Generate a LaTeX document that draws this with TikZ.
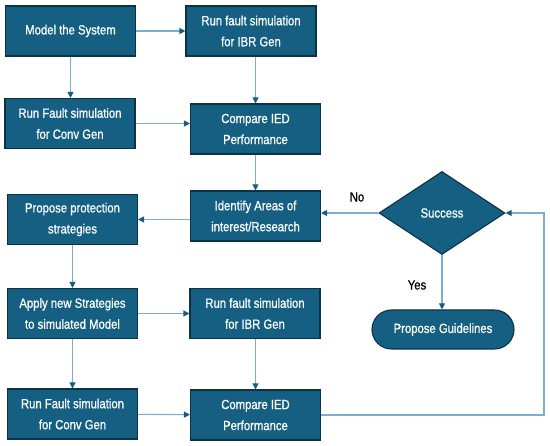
\documentclass[tikz,border=0pt]{standalone}
\usepackage{fontspec}
\setmainfont{Liberation Sans}[FakeStretch=0.85,FakeBold=0.8]
\usetikzlibrary{positioning,arrows.meta,shapes.geometric,shapes.misc}
\definecolor{boxblue}{RGB}{21,96,130}
\definecolor{edgeblue}{RGB}{12,50,70}
\definecolor{linkblue}{RGB}{122,174,202}

\begin{document}
\begin{tikzpicture}[
    x=1pt, y=-1pt,
    box/.style={
        draw=edgeblue,
        line width=1.1pt,
        fill=boxblue,
        text=white,
        minimum width=130pt,
        minimum height=50pt,
        inner sep=0pt,
        align=center,
        font=\fontsize{13.3}{21}\selectfont
    },
    decision/.style={
        box,
        diamond,
        minimum width=126pt,
        minimum height=83pt
    },
    terminal/.style={
        box,
        rounded rectangle,
        minimum width=142pt,
        minimum height=39pt
    },
    lbl/.style={
        font=\fontsize{13.3}{15}\selectfont
    },
    arr/.style={
        -{Triangle[length=6pt,width=6pt,color=boxblue]},
        draw=linkblue,
        line width=1.1pt
    }
]
\useasboundingbox (0,0) rectangle (550,446);

% ============================================================
% First pass
% ============================================================

\node[box] (model) at (70.5,31)
{Model the System};

\node[box] (ibrone) at (251,31)
{Run fault simulation\\for IBR Gen};

\node[box] (convone) at (70,123.5)
{Run Fault simulation\\for Conv Gen};

\node[box] (cmpone) at (255.5,129)
{Compare IED\\Performance};

\node[box] (ident) at (255.5,216)
{Identify Areas of\\interest/Research};

\draw[arr] (model) -- (ibrone);
\draw[arr] (model.south) -- (model.south |- convone.north);
\draw[arr] (cmpone.north |- ibrone.south) -- (cmpone.north);
\draw[arr] (convone.east) -- (convone.east -| cmpone.west);
\draw[arr] (cmpone) -- (ident);


% ============================================================
% Decision
% ============================================================

\node[decision] (success) at (442,213)
{Success};

\node[terminal] (guide) at (443,329.5)
{Propose Guidelines};

\node[lbl] (nolbl) at (357,197) {No};
\node[lbl] (yeslbl) at (417,285) {Yes};

\draw[arr] (success.west) -- (success.west -| ident.east);
\draw[arr] (success.south) -- (success.south |- guide.north);


% ============================================================
% Second pass
% ============================================================

\node[box] (prop) at (72.5,219.5)
{Propose protection\\strategies};

\node[box] (apply) at (72.5,313.5)
{Apply new Strategies\\to simulated Model};

\node[box] (ibrtwo) at (255,313.5)
{Run fault simulation\\for IBR Gen};

\node[box] (convtwo) at (72.5,414)
{Run Fault simulation\\for Conv Gen};

\node[box] (cmptwo) at (255.5,415)
{Compare IED\\Performance};

\coordinate (back) at (544,213);

\draw[arr] (ident.west |- prop) -- (prop.east);
\draw[arr] (prop) -- (apply);
\draw[arr] (apply) -- (ibrtwo);
\draw[arr] (apply) -- (convtwo);
\draw[arr] (cmptwo.north |- ibrtwo.south) -- (cmptwo.north);
\draw[arr] (convtwo) -- (cmptwo);
\draw[arr] (cmptwo.east) -| (back) -- (success.east);

\end{tikzpicture}
\end{document}
